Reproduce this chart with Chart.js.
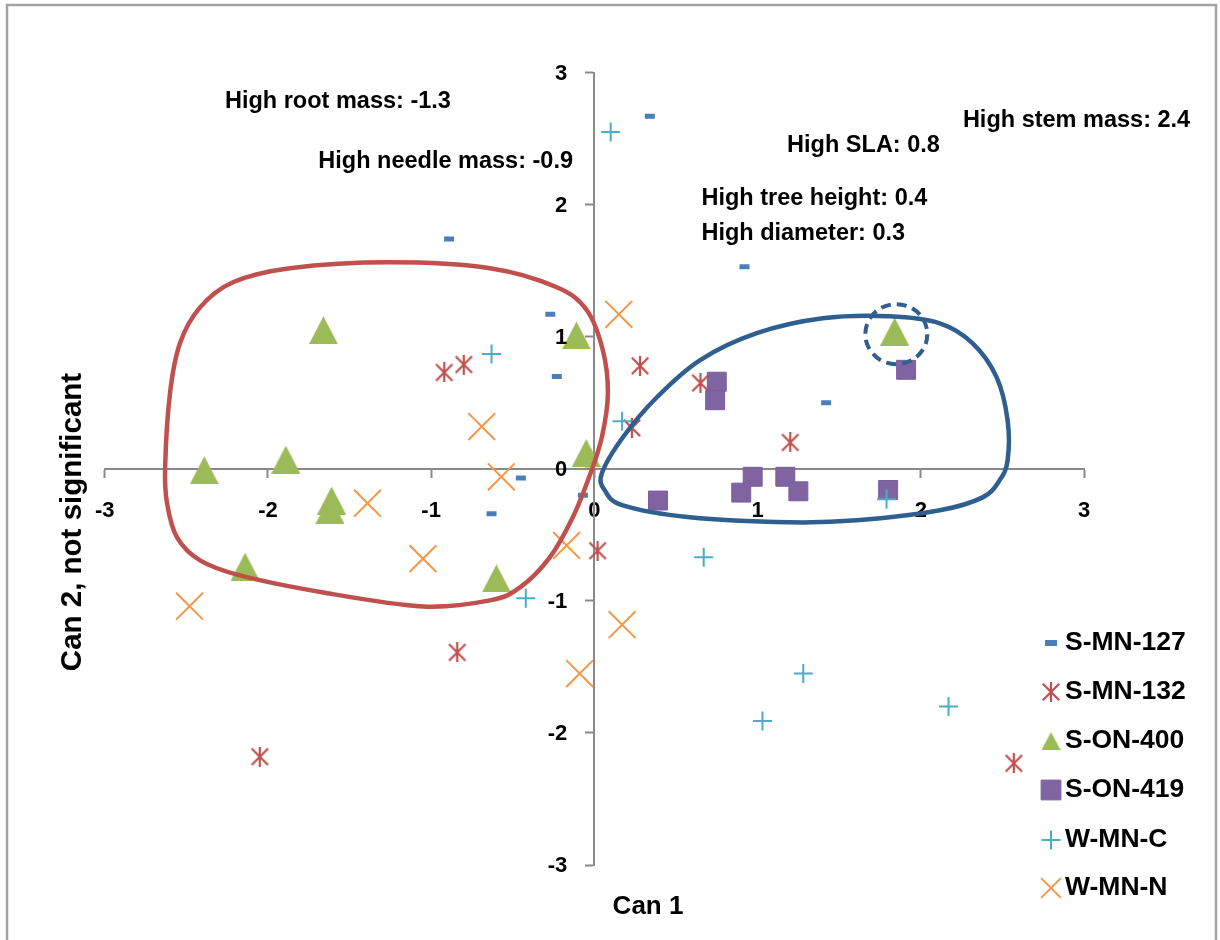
<!DOCTYPE html>
<html>
<head>
<meta charset="utf-8">
<script src="https://cdn.jsdelivr.net/npm/chart.js@4.4.1/dist/chart.umd.min.js"></script>
<style>
html,body{margin:0;padding:0;background:#fff;}
#wrap{width:1220px;height:940px;position:relative;}
</style>
</head>
<body>
<div id="wrap"><canvas id="c" width="1220" height="940"></canvas></div>
<script>
// ---------------- data ----------------
const seriesNames = ['S-MN-127', 'S-MN-132', 'S-ON-400', 'S-ON-419', 'W-MN-C', 'W-MN-N'];

const sMN127X = [0.34, -0.89, 0.92, -0.27, -0.23, 1.42, -0.45, -0.63, -0.07];
const sMN127Y = [2.67, 1.74, 1.53, 1.17, 0.70, 0.50, -0.07, -0.34, -0.20];

const sMN132X = [-0.92, -0.80, 0.28, 0.65, 0.23, 1.20, 0.02, -0.84, -2.05, 2.57];
const sMN132Y = [0.73, 0.79, 0.78, 0.65, 0.31, 0.20, -0.62, -1.39, -2.18, -2.23];

const sON400X = [-1.66, -0.11, -0.05, -1.89, -2.39, 1.84, -1.61, -1.62, -2.14, -0.60];
const sON400Y = [1.05, 1.01, 0.12, 0.07, -0.01, 1.04, -0.24, -0.31, -0.74, -0.83];

const sON419X = [0.75, 0.74, 1.91, 0.39, 0.97, 0.90, 1.17, 1.25, 1.80];
const sON419Y = [0.66, 0.52, 0.75, -0.24, -0.06, -0.18, -0.06, -0.17, -0.16];

const wMNCX = [-0.63, 0.10, 0.17, -0.42, 0.67, 1.79, 1.28, 1.03, 2.17];
const wMNCY = [0.87, 2.55, 0.36, -0.98, -0.67, -0.23, -1.55, -1.91, -1.80];

const wMNNX = [-0.69, 0.15, -0.57, -1.39, -1.05, -0.17, -2.48, -0.09, 0.17];
const wMNNY = [0.32, 1.17, -0.06, -0.26, -0.68, -0.58, -1.04, -1.55, -1.18];

const xTickLabels = ['-3', '-2', '-1', '0', '1', '2', '3'];
const yTickValues = [-3, -2, -1, 0, 1, 2, 3];
const yTickLabels = ['-3', '-2', '-1', '0', '1', '2', '3'];

const xTitle = 'Can 1';
const yTitle = 'Can 2, not significant';

const noteTexts = ['High root mass: -1.3', 'High needle mass: -0.9', 'High stem mass: 2.4',
                   'High SLA: 0.8', 'High tree height: 0.4', 'High diameter: 0.3'];
const noteX = [-2.263, -1.691, 2.258, 1.181, 0.656, 0.656];
const noteY = [2.779, 2.324, 2.640, 2.451, 2.047, 1.782];

// hand-drawn group outlines (axis units)
const redLoopX = [-2.630, -2.600, -2.539, -2.416, -2.214, -1.865, -1.252, -0.640, -0.230, -0.046, 0.052, 0.083, 0.046, -0.028, -0.132, -0.273, -0.456, -0.640, -1.050, -1.662, -2.171, -2.416, -2.557, -2.618];
const redLoopY = [0.004, 0.572, 0.951, 1.223, 1.413, 1.519, 1.564, 1.519, 1.375, 1.201, 0.898, 0.572, 0.239, -0.049, -0.367, -0.670, -0.898, -0.996, -1.042, -0.936, -0.807, -0.693, -0.519, -0.261];
const blueLoopX = [0.046, 0.175, 0.383, 0.646, 0.995, 1.399, 1.810, 2.116, 2.318, 2.465, 2.532, 2.532, 2.483, 2.379, 2.116, 1.607, 1.197, 0.585, 0.175, 0.064];
const blueLoopY = [-0.034, 0.239, 0.542, 0.822, 1.027, 1.140, 1.155, 1.102, 0.951, 0.693, 0.367, 0.064, -0.087, -0.216, -0.314, -0.390, -0.405, -0.367, -0.277, -0.163];
const circleCenter = [1.85, 1.02];

// ---------------- styling ----------------
const FONT = '"Liberation Sans", Arial, sans-serif';
const C_BLUE = '#4A7EBB', C_RED = '#C0504D', C_GREEN = '#9BBB59', C_PURPLE = '#8064A2', C_AQUA = '#4BACC6', C_ORANGE = '#F79646';
const LOOP_RED = '#C0504D', LOOP_BLUE = '#2F5F8F';

function asteriskCanvas(size, color, lw) {
  const c = document.createElement('canvas');
  c.width = size; c.height = size;
  const g = c.getContext('2d');
  g.strokeStyle = color; g.lineWidth = lw; g.lineCap = 'butt';
  const m = size / 2, d = size * 0.41;
  g.beginPath();
  g.moveTo(m, 0); g.lineTo(m, size);
  g.moveTo(m - d, m - d); g.lineTo(m + d, m + d);
  g.moveTo(m + d, m - d); g.lineTo(m - d, m + d);
  g.stroke();
  return c;
}
function triangleCanvas(w, h, color) {
  const c = document.createElement('canvas');
  c.width = w; c.height = h;
  const g = c.getContext('2d');
  g.fillStyle = color;
  g.beginPath();
  g.moveTo(w / 2, 0); g.lineTo(w, h); g.lineTo(0, h); g.closePath();
  g.fill();
  return c;
}
const astPlot = asteriskCanvas(20, C_RED, 2.2);
const astLegend = asteriskCanvas(20, C_RED, 2.2);
const triPlot = triangleCanvas(29, 28, C_GREEN);
const triLegend = triangleCanvas(19, 18, C_GREEN);

function pts(xs, ys) { return xs.map((x, i) => ({ x: x, y: ys[i] })); }

const datasets = [
  { label: seriesNames[0], data: pts(sMN127X, sMN127Y), pointStyle: 'line', pointRadius: 5, pointBorderWidth: 5, borderColor: C_BLUE, backgroundColor: C_BLUE, order: 5 },
  { label: seriesNames[1], data: pts(sMN132X, sMN132Y), pointStyle: astPlot, pointRadius: 10, borderColor: C_RED, backgroundColor: C_RED, order: 4 },
  { label: seriesNames[2], data: pts(sON400X, sON400Y), pointStyle: triPlot, pointRadius: 15, borderColor: C_GREEN, backgroundColor: C_GREEN, order: 3 },
  { label: seriesNames[3], data: pts(sON419X, sON419Y), pointStyle: 'rect', pointRadius: 13.4, pointBorderWidth: 1, borderColor: '#7A5E9C', backgroundColor: C_PURPLE, order: 2 },
  { label: seriesNames[4], data: pts(wMNCX, wMNCY), pointStyle: 'cross', pointRadius: 9.5, pointBorderWidth: 2, borderColor: C_AQUA, backgroundColor: C_AQUA, order: 1 },
  { label: seriesNames[5], data: pts(wMNNX, wMNNY), pointStyle: 'crossRot', pointRadius: 19, pointBorderWidth: 2, borderColor: C_ORANGE, backgroundColor: C_ORANGE, order: 0 }
];

const legendMarkers = [
  { pointStyle: 'line', radius: 6, borderWidth: 6, color: C_BLUE },
  { pointStyle: astLegend, radius: 10, borderWidth: 0, color: C_RED },
  { pointStyle: triLegend, radius: 10, borderWidth: 0, color: C_GREEN },
  { pointStyle: 'rect', radius: 14, borderWidth: 1, color: C_PURPLE },
  { pointStyle: 'cross', radius: 9.5, borderWidth: 2, color: C_AQUA },
  { pointStyle: 'crossRot', radius: 14, borderWidth: 2, color: C_ORANGE }
];

function closedSpline(ctx, p) {
  const n = p.length;
  ctx.beginPath();
  ctx.moveTo(p[0][0], p[0][1]);
  for (let i = 0; i < n; i++) {
    const p0 = p[(i - 1 + n) % n], p1 = p[i], p2 = p[(i + 1) % n], p3 = p[(i + 2) % n];
    const c1x = p1[0] + (p2[0] - p0[0]) / 6, c1y = p1[1] + (p2[1] - p0[1]) / 6;
    const c2x = p2[0] - (p3[0] - p1[0]) / 6, c2y = p2[1] - (p3[1] - p1[1]) / 6;
    ctx.bezierCurveTo(c1x, c1y, c2x, c2y, p2[0], p2[1]);
  }
  ctx.closePath();
}

const decor = {
  id: 'decor',
  beforeDraw(chart) {
    const ctx = chart.ctx;
    ctx.save();
    ctx.fillStyle = '#ffffff';
    ctx.fillRect(0, 0, chart.width, chart.height);
    ctx.strokeStyle = '#A3A3A3';
    ctx.lineWidth = 2.5;
    ctx.strokeRect(7, 5, 1209, 1000);
    ctx.restore();
  },
  afterDatasetsDraw(chart) {
    const ctx = chart.ctx, xs = chart.scales.x, ys = chart.scales.y;
    ctx.save();
    ctx.lineJoin = 'round';
    closedSpline(ctx, redLoopX.map((v, i) => [xs.getPixelForValue(v), ys.getPixelForValue(redLoopY[i])]));
    ctx.strokeStyle = LOOP_RED; ctx.lineWidth = 4.5; ctx.stroke();
    closedSpline(ctx, blueLoopX.map((v, i) => [xs.getPixelForValue(v), ys.getPixelForValue(blueLoopY[i])]));
    ctx.strokeStyle = LOOP_BLUE; ctx.lineWidth = 4.5; ctx.stroke();
    ctx.beginPath();
    ctx.ellipse(xs.getPixelForValue(circleCenter[0]), ys.getPixelForValue(circleCenter[1]), 31, 30, 0, 0, Math.PI * 2);
    ctx.setLineDash([10, 6]);
    ctx.lineWidth = 4;
    ctx.stroke();
    ctx.restore();
  },
  afterDraw(chart) {
    const ctx = chart.ctx, xs = chart.scales.x, ys = chart.scales.y;
    ctx.save();
    ctx.fillStyle = '#000';
    // y tick labels, right-aligned left of the y axis
    ctx.font = 'bold 22px ' + FONT;
    ctx.textAlign = 'right';
    ctx.textBaseline = 'middle';
    const axisX = xs.getPixelForValue(0);
    yTickValues.forEach((v, i) => ctx.fillText(yTickLabels[i], axisX - 27, ys.getPixelForValue(v) + 1));
    // notes
    ctx.textAlign = 'left';
    ctx.font = 'bold 23.5px ' + FONT;
    noteTexts.forEach((t, i) => ctx.fillText(t, xs.getPixelForValue(noteX[i]), ys.getPixelForValue(noteY[i])));
    // axis titles
    ctx.font = 'bold 26px ' + FONT;
    ctx.textAlign = 'center';
    ctx.fillText(xTitle, 648, 907);
    ctx.save();
    ctx.translate(73, 522);
    ctx.rotate(-Math.PI / 2);
    ctx.font = 'bold 29.5px ' + FONT;
    ctx.fillText(yTitle, 0, 0);
    ctx.restore();
    // legend
    const rowY = [643, 692, 741, 790, 840, 888];
    const mx = 1051, tx = 1065;
    ctx.font = 'bold 26.5px ' + FONT;
    ctx.textAlign = 'left';
    seriesNames.forEach((name, i) => {
      const m = legendMarkers[i];
      ctx.save();
      ctx.fillStyle = m.color; ctx.strokeStyle = m.color; ctx.lineWidth = m.borderWidth;
      Chart.helpers.drawPoint(ctx, { pointStyle: m.pointStyle, radius: m.radius, borderWidth: m.borderWidth, rotation: 0 }, mx, rowY[i]);
      ctx.restore();
      ctx.fillStyle = '#000';
      ctx.fillText(name, tx, rowY[i]);
    });
    ctx.restore();
  }
};

const tickFont = { family: FONT, size: 22, weight: 'bold' };

new Chart(document.getElementById('c'), {
  type: 'scatter',
  data: { datasets: datasets },
  options: {
    responsive: false,
    animation: false,
    events: [],
    layout: { padding: { left: 104.7, right: 136, top: 72.7, bottom: 75 } },
    plugins: { legend: { display: false }, tooltip: { enabled: false }, title: { display: false } },
    scales: {
      x: {
        type: 'linear', min: -3, max: 3, position: { y: 0 },
        afterFit: (s) => { s.height = 0; },
        ticks: { stepSize: 1, color: '#000', font: tickFont, padding: 21, maxRotation: 0,
                 callback: (v, i) => xTickLabels[i] },
        grid: { display: true, drawOnChartArea: false, drawTicks: true, tickLength: 8, tickWidth: 2, color: '#898989' },
        border: { display: true, color: '#898989', width: 2 }
      },
      y: {
        type: 'linear', min: -3, max: 3, position: { x: 0 },
        afterFit: (s) => { s.width = 0; },
        ticks: { stepSize: 1, color: 'rgba(0,0,0,0)', font: tickFont, padding: 18,
                 callback: (v, i) => yTickLabels[i] },
        grid: { display: true, drawOnChartArea: false, drawTicks: true, tickLength: 8, tickWidth: 2, color: '#898989' },
        border: { display: true, color: '#898989', width: 2 }
      }
    }
  },
  plugins: [decor]
});
</script>
</body>
</html>
